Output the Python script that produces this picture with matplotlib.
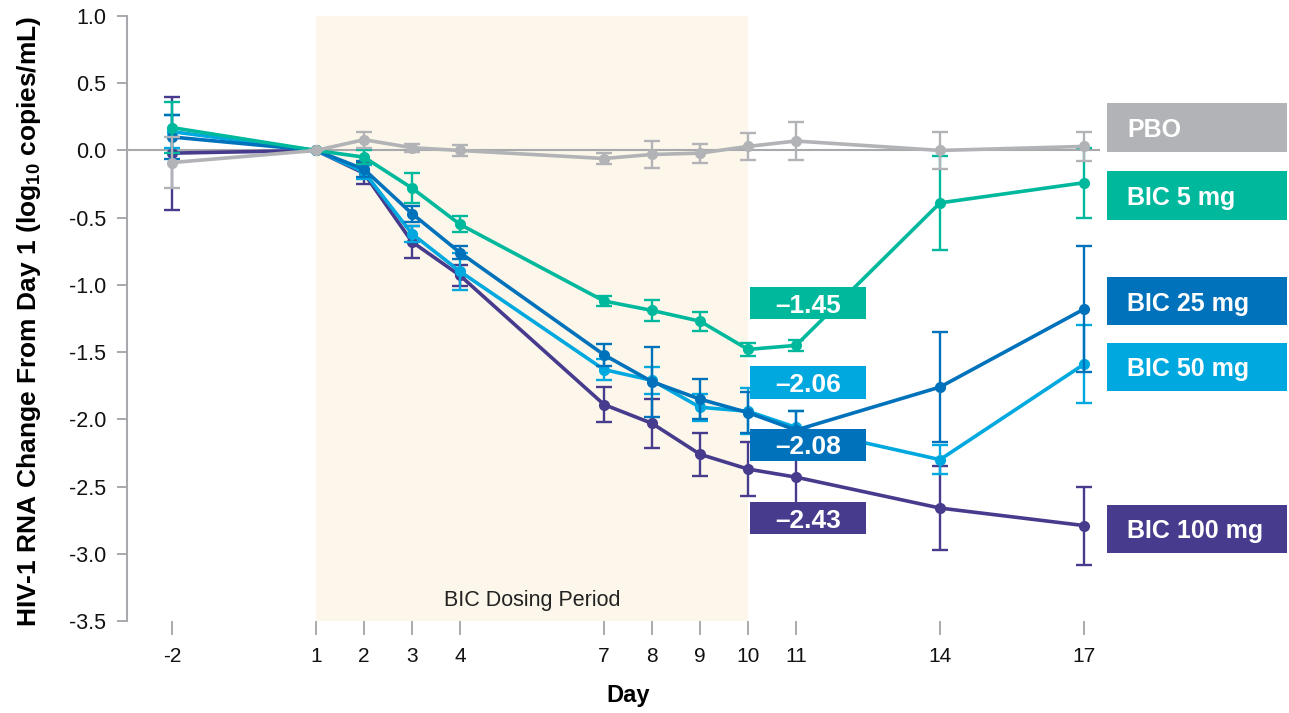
import matplotlib
matplotlib.use("Agg")
import matplotlib.pyplot as plt
from matplotlib.patches import Rectangle

plt.rcParams['font.family'] = ['Liberation Sans', 'DejaVu Sans']
plt.rcParams['mathtext.fontset'] = 'custom'
plt.rcParams['mathtext.rm'] = 'Liberation Sans'
plt.rcParams['mathtext.bf'] = 'Liberation Sans:bold'

# ---------------- data ----------------
days = [-2, 1, 2, 3, 4, 7, 8, 9, 10, 11, 14, 17]
series_names = ["PBO", "BIC 5 mg", "BIC 25 mg", "BIC 50 mg", "BIC 100 mg"]

pbo_mean = [-0.09, 0.00, 0.08, 0.02, 0.00, -0.06, -0.03, -0.02, 0.03, 0.07, 0.00, 0.03]
pbo_err = [0.19, 0.00, 0.06, 0.03, 0.04, 0.04, 0.10, 0.07, 0.10, 0.14, 0.14, 0.11]

bic5_mean = [0.17, 0.00, -0.05, -0.28, -0.55, -1.12, -1.19, -1.27, -1.48, -1.45, -0.39, -0.24]
bic5_err = [0.19, 0.00, 0.05, 0.11, 0.06, 0.04, 0.08, 0.07, 0.05, 0.04, 0.35, 0.26]

bic25_mean = [0.10, 0.00, -0.14, -0.47, -0.76, -1.52, -1.72, -1.85, -1.95, -2.08, -1.76, -1.18]
bic25_err = [0.16, 0.00, 0.06, 0.06, 0.05, 0.08, 0.26, 0.15, 0.15, 0.14, 0.41, 0.47]

bic50_mean = [0.14, 0.00, -0.16, -0.62, -0.90, -1.63, -1.71, -1.91, -1.94, -2.06, -2.30, -1.59]
bic50_err = [0.12, 0.00, 0.05, 0.06, 0.14, 0.08, 0.10, 0.10, 0.17, 0.12, 0.11, 0.29]

bic100_mean = [-0.02, 0.00, -0.17, -0.68, -0.93, -1.89, -2.03, -2.26, -2.37, -2.43, -2.66, -2.79]
bic100_err = [0.42, 0.00, 0.08, 0.12, 0.08, 0.13, 0.18, 0.16, 0.20, 0.20, 0.31, 0.29]

value_labels = ["\u20131.45", "\u20132.06", "\u20132.08", "\u20132.43"]

x_ticks = [-2, 1, 2, 3, 4, 7, 8, 9, 10, 11, 14, 17]
y_ticks = [1.0, 0.5, 0.0, -0.5, -1.0, -1.5, -2.0, -2.5, -3.0, -3.5]
dosing_period = (1, 10)

# ---------------- styles / layout ----------------
colors = ["#B1B3B6", "#00B89C", "#0071BB", "#00A8E0", "#463B8C"]
series_means = [pbo_mean, bic5_mean, bic25_mean, bic50_mean, bic100_mean]
series_errs = [pbo_err, bic5_err, bic25_err, bic50_err, bic100_err]

W, H = 1289, 713
fig = plt.figure(figsize=(W / 100, H / 100), dpi=100)
ax_left, ax_right, ax_top, ax_bot = 127, 1100, 16, 621
ax = fig.add_axes([ax_left / W, (H - ax_bot) / H, (ax_right - ax_left) / W, (ax_bot - ax_top) / H])

xmin = 1 + (ax_left - 316) / 48.0
xmax = 1 + (ax_right - 316) / 48.0
ax.set_xlim(xmin, xmax)
ax.set_ylim(-3.5, 1.0)

# dosing period shading
ax.axvspan(dosing_period[0], dosing_period[1], color="#FCF7EA", zorder=0, lw=0)
ax.text(sum(dosing_period) / 2, -3.35, "BIC Dosing Period", ha="center", va="center",
        fontsize=15.5, color="#222222", zorder=1)

# zero line
ax.axhline(0, color="#A7A9AC", lw=1.5, zorder=1)

# series (draw darkest first so lighter/top ones overlay)
order = [4, 3, 2, 1, 0]
for i in order:
    ax.errorbar(days, series_means[i], yerr=series_errs[i], color=colors[i], lw=2.6,
                marker="o", ms=7, elinewidth=1.7, capsize=5.5, capthick=1.7, zorder=3 + (4 - i))

# axes styling
for s in ["top", "right", "bottom"]:
    ax.spines[s].set_visible(False)
ax.spines["left"].set_color("#A7A9AC")
ax.spines["left"].set_linewidth(1.5)
ax.set_xticks(x_ticks)
ax.set_xticklabels([str(d) for d in x_ticks], fontsize=15)
ax.set_yticks(y_ticks)
ax.set_yticklabels([f"{v:.1f}" for v in y_ticks], fontsize=15.5)
ax.tick_params(axis="x", length=10, width=1.4, color="#A7A9AC", pad=9, labelcolor="#111111")
ax.tick_params(axis="y", length=7, width=1.4, color="#A7A9AC", pad=8, labelcolor="#111111")

fig.text(29 / W, (H - 321) / H, r"HIV-1 RNA Change From Day 1 (log$_{\mathbf{10}}$ copies/mL)",
         rotation=90, ha="center", va="center", fontsize=19, fontweight="bold")
fig.text(628 / W, 11 / H, "Day", ha="center", va="baseline", fontsize=17, fontweight="bold")

# right-hand series label boxes (layout positions in data y units)
box_x0 = 1 + (1107 - 316) / 48.0
box_x1 = 1 + (1287 - 316) / 48.0
box_centers = [0.17, -0.335, -1.12, -1.61, -2.815]
box_h = 0.36
for name, c, yc in zip(series_names, colors, box_centers):
    ax.add_patch(Rectangle((box_x0, yc - box_h / 2), box_x1 - box_x0, box_h, facecolor=c,
                           edgecolor="none", clip_on=False, zorder=5))
    ax.text(box_x0 + 20 / 48.0, yc, name, ha="left", va="center_baseline", color="white",
            fontsize=18, fontweight="bold", zorder=6, clip_on=False)

# value label boxes
vb_x0 = 1 + (750 - 316) / 48.0
vb_x1 = 1 + (866 - 316) / 48.0
vb_centers = [-1.135, -1.726, -2.19, -2.735]
vb_colors = [colors[1], colors[3], colors[2], colors[4]]
vb_h = 0.24
for lab, c, yc in zip(value_labels, vb_colors, vb_centers):
    ax.add_patch(Rectangle((vb_x0, yc - vb_h / 2), vb_x1 - vb_x0, vb_h, facecolor=c,
                           edgecolor="none", clip_on=False, zorder=9))
    ax.text((vb_x0 + vb_x1) / 2, yc, lab, ha="center", va="center_baseline", color="white",
            fontsize=19, fontweight="bold", zorder=10)

fig.savefig("out.png", dpi=100)
